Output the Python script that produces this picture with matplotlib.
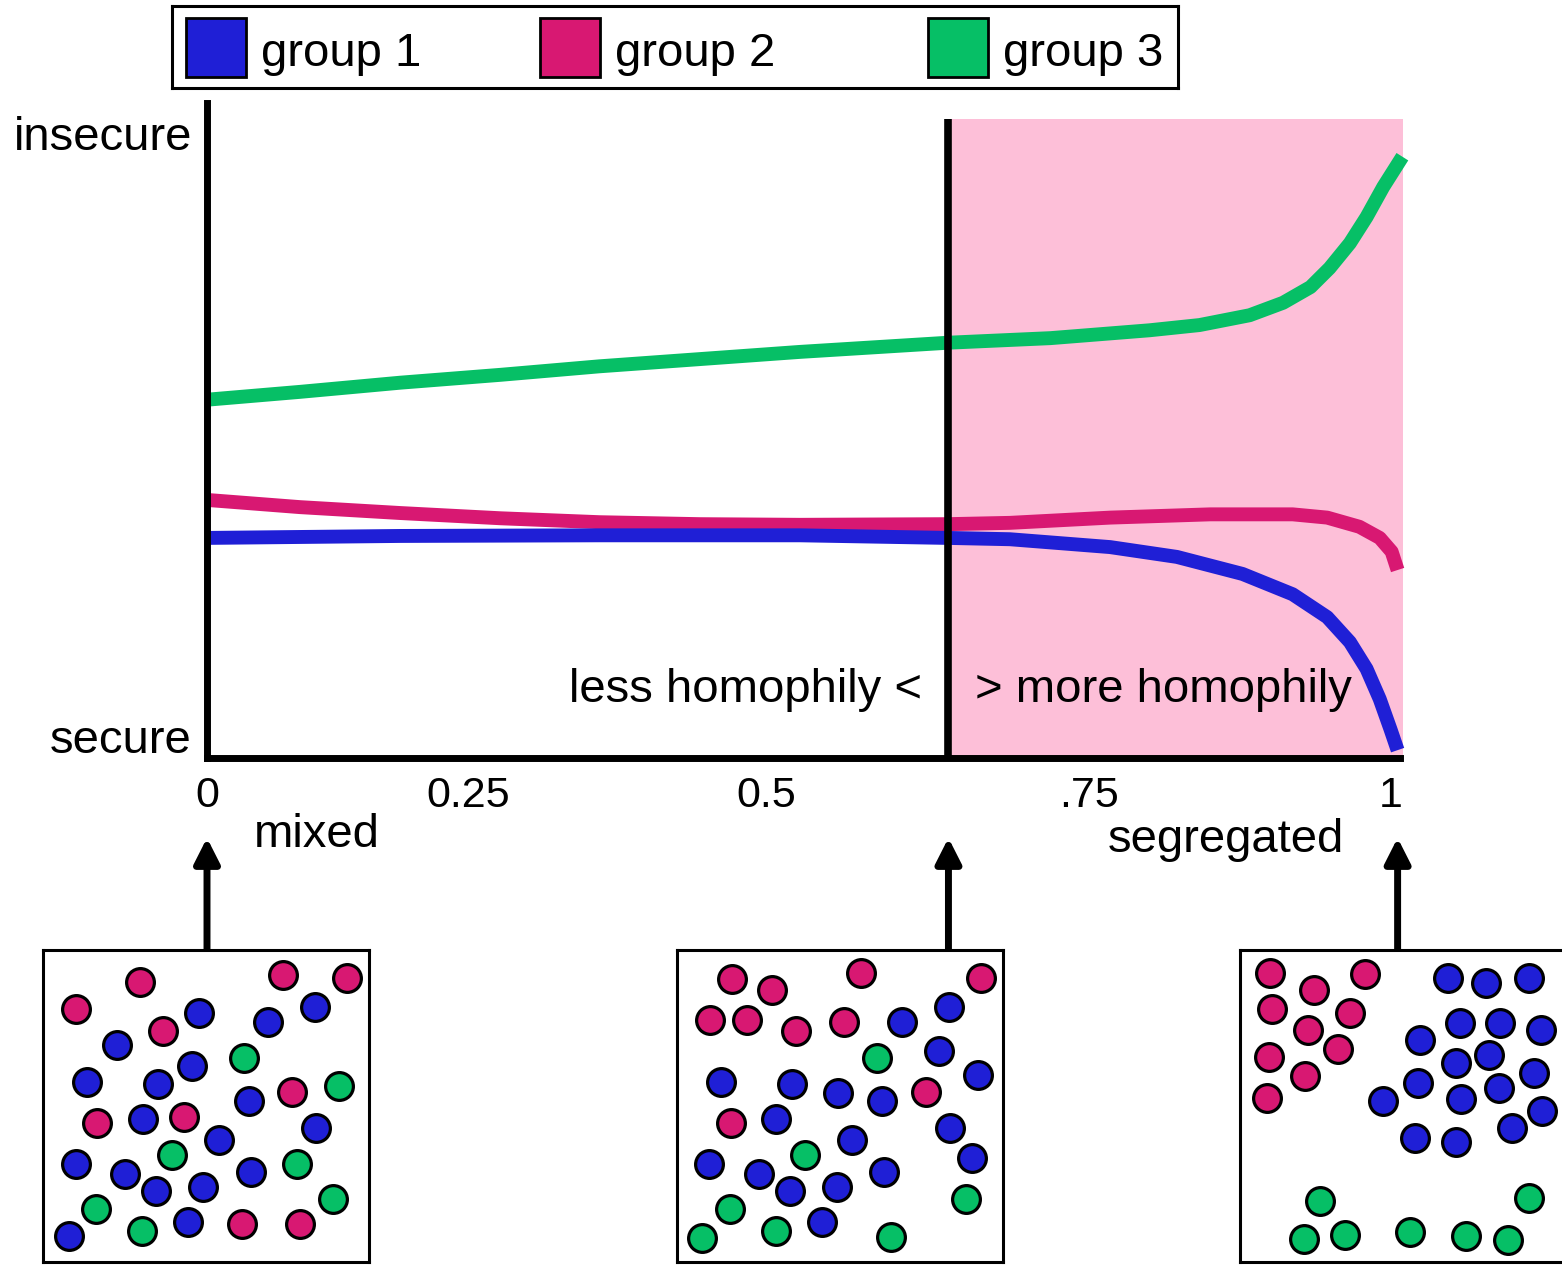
import matplotlib.pyplot as plt
from matplotlib.patches import Rectangle

plt.rcParams['font.family'] = ['Liberation Sans', 'DejaVu Sans']

W, H = 1562, 1269

blue = '#1f1fd6'
magenta = '#d81872'
green = '#06bf66'
pink = '#fdbfd8'

group_names = ['group 1', 'group 2', 'group 3']
group_colors = [blue, magenta, green]

# insecurity (0 = secure, 1 = insecure) against homophily (0 = mixed, 1 = segregated)
g1_x = [0, 0.162, 0.329, 0.497, 0.621, 0.673, 0.757, 0.813, 0.868, 0.910, 0.939, 0.958, 0.972, 0.983, 0.992, 0.998]
g1_y = [0.336, 0.339, 0.340, 0.340, 0.336, 0.334, 0.322, 0.307, 0.281, 0.250, 0.215, 0.177, 0.136, 0.090, 0.044, 0.012]

g2_x = [0, 0.078, 0.162, 0.246, 0.329, 0.413, 0.497, 0.621, 0.673, 0.757, 0.841, 0.910, 0.939, 0.966, 0.983, 0.993, 0.998]
g2_y = [0.394, 0.383, 0.374, 0.366, 0.360, 0.357, 0.356, 0.357, 0.359, 0.367, 0.372, 0.372, 0.367, 0.353, 0.336, 0.315, 0.287]

g3_x = [0, 0.078, 0.162, 0.246, 0.329, 0.413, 0.497, 0.621, 0.707, 0.790, 0.832, 0.874, 0.902, 0.925, 0.941, 0.958, 0.972, 0.986, 1.002]
g3_y = [0.547, 0.559, 0.573, 0.585, 0.598, 0.609, 0.620, 0.634, 0.641, 0.653, 0.661, 0.676, 0.695, 0.719, 0.748, 0.786, 0.826, 0.872, 0.918]

threshold = 0.6215
tick_pos = [0, 0.219, 0.469, 0.739, 0.992]
tick_labels = ['0', '0.25', '0.5', '.75', '1']

# example networks: circle centres in box pixels, measured from the top-left corner
mixed_g1 = [(156, 63), (272, 57), (225, 72), (74, 95), (149, 116), (44, 132), (115, 134), (206, 151), (100, 169),
            (273, 178), (176, 190), (33, 214), (82, 224), (208, 222), (113, 241), (160, 237), (145, 272), (26, 286)]
mixed_g2 = [(97, 32), (240, 25), (304, 28), (33, 59), (120, 81), (249, 142), (54, 173), (141, 167), (199, 274), (257, 274)]
mixed_g3 = [(201, 108), (296, 136), (129, 205), (254, 214), (290, 249), (53, 259), (99, 281)]

mid_g1 = [(225, 72), (272, 57), (262, 101), (301, 125), (44, 132), (115, 134), (161, 143), (205, 151), (99, 169),
          (273, 178), (175, 190), (295, 208), (32, 214), (82, 224), (207, 222), (113, 241), (160, 237), (145, 272)]
mid_g2 = [(55, 29), (95, 40), (184, 23), (304, 28), (33, 70), (70, 70), (119, 81), (167, 72), (249, 142), (54, 173)]
mid_g3 = [(200, 108), (128, 205), (289, 249), (53, 259), (99, 281), (25, 288), (214, 287)]

seg_g1 = [(208, 28), (246, 33), (289, 28), (220, 73), (260, 73), (301, 80), (180, 90), (249, 105), (216, 113),
          (294, 123), (178, 133), (259, 138), (143, 151), (221, 149), (302, 161), (272, 178), (175, 188), (216, 192)]
seg_g2 = [(30, 23), (125, 24), (74, 40), (32, 59), (110, 63), (68, 80), (98, 99), (29, 107), (65, 126), (27, 148)]
seg_g3 = [(80, 251), (289, 248), (64, 289), (105, 285), (170, 282), (226, 286), (268, 290)]

fig = plt.figure(figsize=(W / 100, H / 100), dpi=100)


def px_axes(left, top, width, height):
    return fig.add_axes([left / W, 1 - (top + height) / H, width / W, height / H])


# main plot
ax = px_axes(207, 103, 1210, 655)
ax.set_xlim(0, 1210 / 1193)
ax.set_ylim(0, 1)
ax.patch.set_alpha(0)
for side in ['top', 'right']:
    ax.spines[side].set_visible(False)
for side in ['left', 'bottom']:
    ax.spines[side].set_linewidth(5)
    ax.spines[side].set_capstyle('projecting')
ax.spines['bottom'].set_bounds(0, 1.0)

ax.axvspan(threshold, 1.0025, ymin=0, ymax=0.976, color=pink, lw=0, zorder=0)
for xs, ys, c in [(g3_x, g3_y, green), (g2_x, g2_y, magenta), (g1_x, g1_y, blue)]:
    ax.plot(xs, ys, color=c, lw=10, solid_capstyle='butt', solid_joinstyle='round',
            clip_on=False, zorder=2)
ax.vlines(threshold, 0, 0.976, color='black', lw=5.5, zorder=3)

ax.set_xticks(tick_pos, tick_labels, fontsize=31)
ax.tick_params(axis='x', length=0, pad=13)
ax.set_yticks([])

ax.text(-0.0126, 0.928, 'insecure', fontsize=34, ha='right', va='baseline')
ax.text(-0.0126, 0.008, 'secure', fontsize=34, ha='right', va='baseline')
ax.text(0.599, 0.085, 'less homophily <', fontsize=34, ha='right', va='baseline')
ax.text(0.644, 0.085, '> more homophily', fontsize=34, ha='left', va='baseline')
ax.text(0.039, -0.136, 'mixed', fontsize=34, ha='left', va='baseline')
ax.text(0.755, -0.144, 'segregated', fontsize=34, ha='left', va='baseline')

for x in [0, threshold, 0.998]:
    ax.annotate('', xy=(x, -0.122), xytext=(x, -0.293),
                arrowprops=dict(arrowstyle='-|>,head_length=0.75,head_width=0.38', mutation_scale=20,
                                lw=5, color='black', shrinkA=0, shrinkB=0),
                annotation_clip=False)

# legend
lax = px_axes(172, 6, 1006, 82)
lax.set_xlim(0, 1006)
lax.set_ylim(82, 0)
lax.set_xticks([])
lax.set_yticks([])
for s in lax.spines.values():
    s.set_linewidth(2.2)
for name, c, x in zip(group_names, group_colors, [14, 368, 756]):
    lax.add_patch(Rectangle((x, 12), 60, 59, facecolor=c, edgecolor='black', lw=2))
    lax.text(x + 75, 60, name, fontsize=34, ha='left', va='baseline')

# network boxes
for left, groups in [(43, [mixed_g1, mixed_g2, mixed_g3]),
                     (677, [mid_g1, mid_g2, mid_g3]),
                     (1240, [seg_g1, seg_g2, seg_g3])]:
    bx = px_axes(left, 950, 326, 312)
    bx.set_xlim(0, 326)
    bx.set_ylim(312, 0)
    bx.set_xticks([])
    bx.set_yticks([])
    for s in bx.spines.values():
        s.set_linewidth(2.2)
    for pts, c in zip(groups, group_colors):
        xs, ys = zip(*pts)
        bx.scatter(xs, ys, s=400, color=c, edgecolor='black', linewidth=2.3, zorder=2)

fig.savefig('out.png', dpi=100)
